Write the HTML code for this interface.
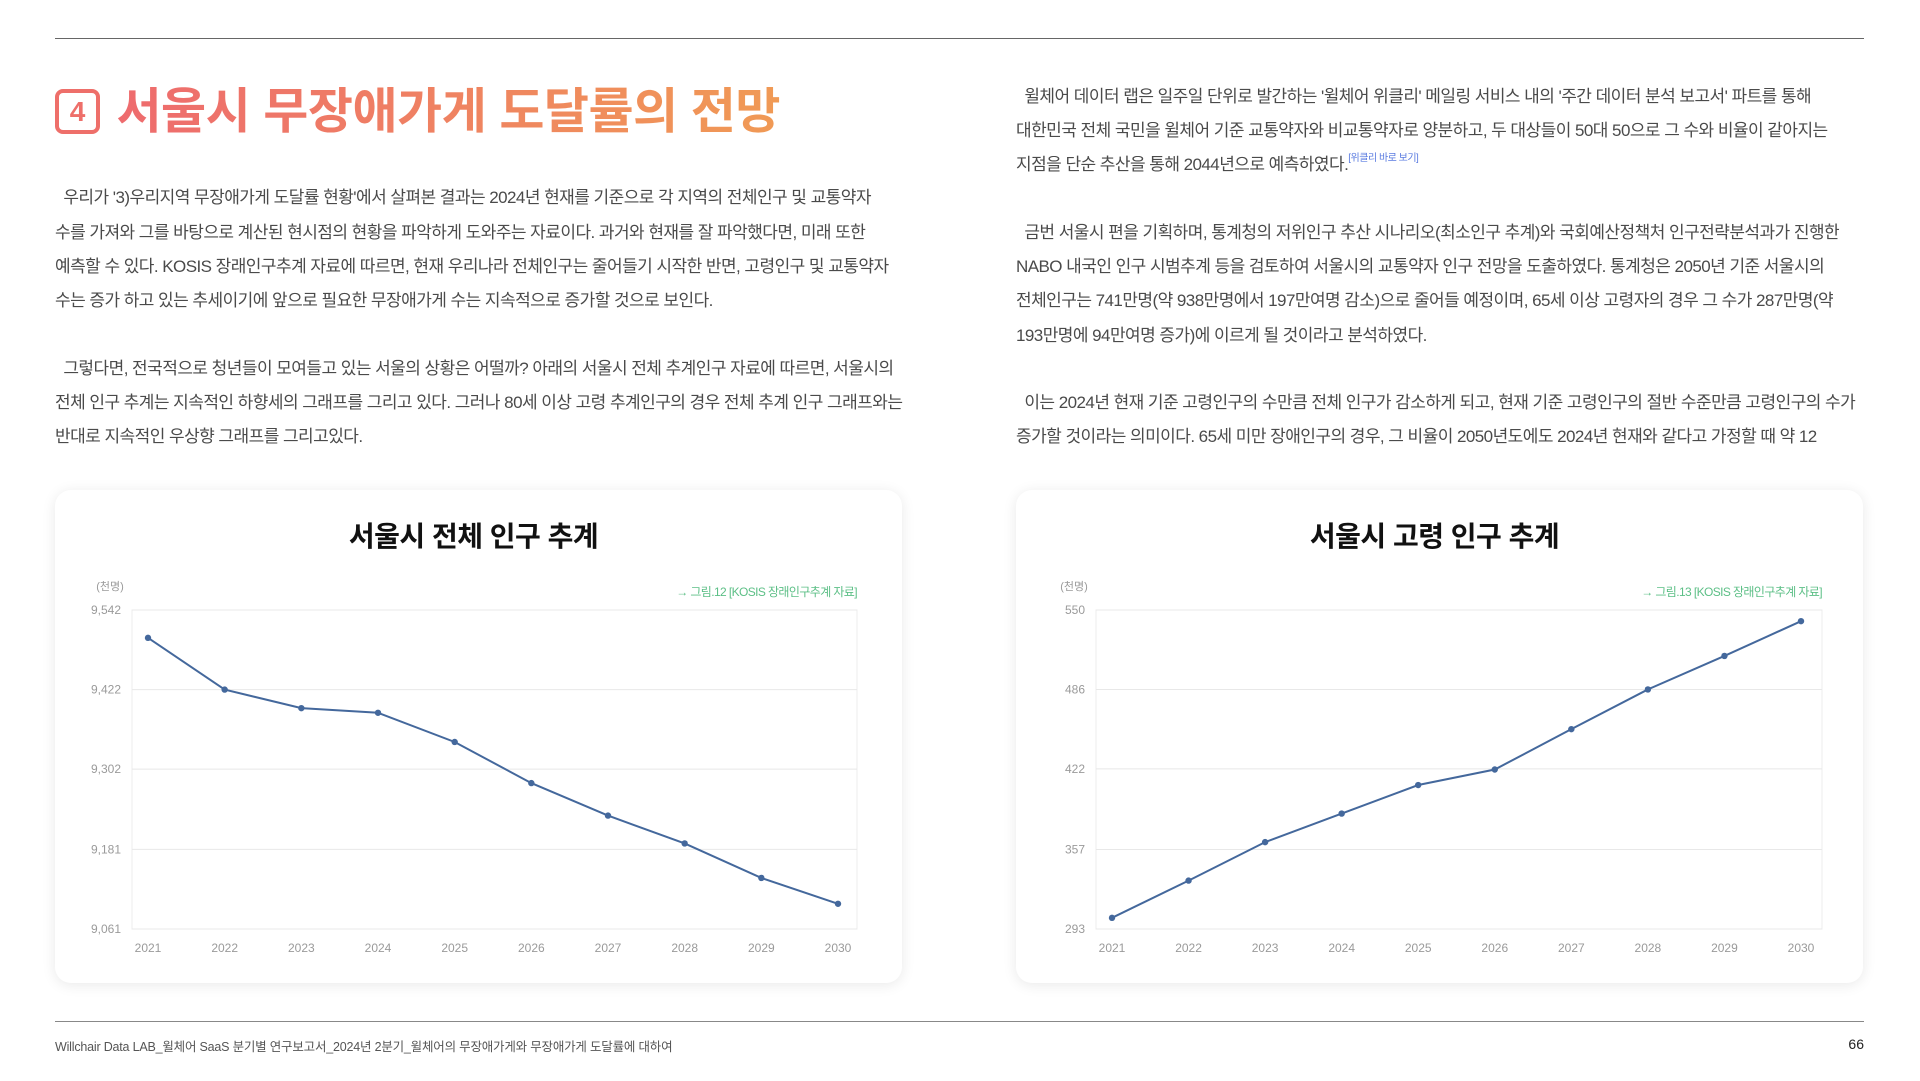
<!DOCTYPE html>
<html><head><meta charset="utf-8">
<style>
html,body{margin:0;padding:0;background:#fff;}
body{width:1920px;height:1081px;position:relative;overflow:hidden;font-family:"Liberation Sans","Noto Sans CJK KR",sans-serif;color:#444;}
.rule{position:absolute;left:55px;width:1809px;height:1px;background:#666;}
.ln{position:absolute;white-space:nowrap;font-size:17px;letter-spacing:-0.55px;line-height:20px;color:#4a4a4a;}
.card{position:absolute;top:490px;width:847px;height:493px;background:#fff;border-radius:16px;box-shadow:0 2px 14px rgba(0,0,0,0.09);}
.ctitle{position:absolute;top:515px;text-align:center;font-size:28px;font-weight:bold;color:#111;letter-spacing:-0.5px;}
</style></head><body>
<div class="rule" style="top:38px"></div>

<div style="position:absolute;left:55px;top:87px;height:52px;white-space:nowrap;">
  <span style="display:inline-block;width:37px;height:37px;border:4px solid #ee6f6a;border-radius:8px;color:#ee6f6a;font-size:28px;font-weight:bold;text-align:center;line-height:37px;vertical-align:top;margin-top:2px;">4</span>
  <span style="display:inline-block;margin-left:12px;font-size:49px;font-weight:bold;letter-spacing:-0.5px;line-height:50px;background:linear-gradient(90deg,#ee6b6e,#f09a55);-webkit-background-clip:text;background-clip:text;color:transparent;">서울시 무장애가게 도달률의 전망</span>
</div>

<div>
<div class="ln" style="left:55px;top:188px">&nbsp;&nbsp;우리가 '3)우리지역 무장애가게 도달률 현황'에서 살펴본 결과는 2024년 현재를 기준으로 각 지역의 전체인구 및 교통약자</div>
<div class="ln" style="left:55px;top:223px">수를 가져와 그를 바탕으로 계산된 현시점의 현황을 파악하게 도와주는 자료이다. 과거와 현재를 잘 파악했다면, 미래 또한</div>
<div class="ln" style="left:55px;top:257px">예측할 수 있다. KOSIS 장래인구추계 자료에 따르면, 현재 우리나라 전체인구는 줄어들기 시작한 반면, 고령인구 및 교통약자</div>
<div class="ln" style="left:55px;top:291px">수는 증가 하고 있는 추세이기에 앞으로 필요한 무장애가게 수는 지속적으로 증가할 것으로 보인다.</div>
</div>
<div>
<div class="ln" style="left:55px;top:359px">&nbsp;&nbsp;그렇다면, 전국적으로 청년들이 모여들고 있는 서울의 상황은 어떨까? 아래의 서울시 전체 추계인구 자료에 따르면, 서울시의</div>
<div class="ln" style="left:55px;top:393px">전체 인구 추계는 지속적인 하향세의 그래프를 그리고 있다. 그러나 80세 이상 고령 추계인구의 경우 전체 추계 인구 그래프와는</div>
<div class="ln" style="left:55px;top:427px">반대로 지속적인 우상향 그래프를 그리고있다.</div>
</div>

<div>
<div class="ln" style="left:1016px;top:87px">&nbsp;&nbsp;윌체어 데이터 랩은 일주일 단위로 발간하는 '윌체어 위클리' 메일링 서비스 내의 '주간 데이터 분석 보고서' 파트를 통해</div>
<div class="ln" style="left:1016px;top:121px">대한민국 전체 국민을 윌체어 기준 교통약자와 비교통약자로 양분하고, 두 대상들이 50대 50으로 그 수와 비율이 같아지는</div>
<div class="ln" style="left:1016px;top:155px">지점을 단순 추산을 통해 2044년으로 예측하였다.<span style="font-size:10px;color:#5a7be0;letter-spacing:-0.5px;position:relative;top:-9px;line-height:0;">[위클리 바로 보기]</span></div>
</div>
<div>
<div class="ln" style="left:1016px;top:223px">&nbsp;&nbsp;금번 서울시 편을 기획하며, 통계청의 저위인구 추산 시나리오(최소인구 추계)와 국회예산정책처 인구전략분석과가 진행한</div>
<div class="ln" style="left:1016px;top:257px">NABO 내국인 인구 시범추계 등을 검토하여 서울시의 교통약자 인구 전망을 도출하였다. 통계청은 2050년 기준 서울시의</div>
<div class="ln" style="left:1016px;top:291px">전체인구는 741만명(약 938만명에서 197만여명 감소)으로 줄어들 예정이며, 65세 이상 고령자의 경우 그 수가 287만명(약</div>
<div class="ln" style="left:1016px;top:326px">193만명에 94만여명 증가)에 이르게 될 것이라고 분석하였다.</div>
</div>
<div>
<div class="ln" style="left:1016px;top:393px">&nbsp;&nbsp;이는 2024년 현재 기준 고령인구의 수만큼 전체 인구가 감소하게 되고, 현재 기준 고령인구의 절반 수준만큼 고령인구의 수가</div>
<div class="ln" style="left:1016px;top:427px">증가할 것이라는 의미이다. 65세 미만 장애인구의 경우, 그 비율이 2050년도에도 2024년 현재와 같다고 가정할 때 약 12</div>
</div>

<div class="card" style="left:55px"></div>
<div class="card" style="left:1016px"></div>
<div class="ctitle" style="left:55px;width:837px">서울시 전체 인구 추계</div>
<div class="ctitle" style="left:1016px;width:837px">서울시 고령 인구 추계</div>

<svg id="charts" width="1920" height="1081" style="position:absolute;left:0;top:0"></svg>

<div class="rule" style="top:1021px;background:#888"></div>
<div style="position:absolute;left:55px;top:1036px;font-size:12.5px;color:#555;white-space:nowrap;letter-spacing:-0.2px;">Willchair Data LAB_윌체어 SaaS 분기별 연구보고서_2024년 2분기_윌체어의 무장애가게와 무장애가게 도달률에 대하여</div>
<div style="position:absolute;right:56px;top:1036px;font-size:14px;color:#222;">66</div>

<script>
const years = ["2021","2022","2023","2024","2025","2026","2027","2028","2029","2030"];
const totalValues = [9500,9422,9394,9387,9343,9281,9232,9190,9138,9099];
const totalTicks = [9061,9181,9302,9422,9542];
const totalTickLabels = ["9,061","9,181","9,302","9,422","9,542"];
const elderlyValues = [302,332,363,386,409,421.5,454,486,513,541];
const elderlyTicks = [293,357,422,486,550];
const elderlyTickLabels = ["293","357","422","486","550"];

const NS="http://www.w3.org/2000/svg";
const svg=document.getElementById('charts');
function mk(tag,attrs,parent){const e=document.createElementNS(NS,tag);for(const k in attrs)e.setAttribute(k,attrs[k]);(parent||svg).appendChild(e);return e;}

function drawChart(cfg){
  const g=mk('g',{});
  
  
  const x0=cfg.left,x1=cfg.right,yT=610,yB=929;
  const mn=cfg.ticks[0],mx=cfg.ticks[cfg.ticks.length-1];
  const y=v=>yB-(v-mn)/(mx-mn)*(yB-yT);
  const n=years.length;
  const x=i=>cfg.firstX+i*(cfg.lastX-cfg.firstX)/(n-1);
  mk('rect',{x:x0,y:yT,width:x1-x0,height:yB-yT,fill:'none',stroke:'#ececec','stroke-width':1},g);
  cfg.ticks.forEach((t,i)=>{
    const l=mk('line',{x1:x0,x2:x1,y1:y(t),y2:y(t),stroke:'#e8e8e8','stroke-width':1},g);
    
    
    const tx=mk('text',{x:x0-11,y:y(t)+4,'text-anchor':'end','font-size':12,fill:'#9a9a9a','font-family':'Liberation Sans, sans-serif'},g);
    tx.textContent=cfg.tickLabels[i];
    
    
  });
  years.forEach((yr,i)=>{
    const tx=mk('text',{x:x(i),y:952,'text-anchor':'middle','font-size':12,fill:'#9a9a9a','font-family':'Liberation Sans, sans-serif'},g);
    tx.textContent=yr;
    
    
  });
  const u=mk('text',{x:x0-22,y:590,'text-anchor':'middle','font-size':11,fill:'#9a9a9a','font-family':'Liberation Sans, Noto Sans CJK KR, sans-serif'},g);
  u.textContent='(천명)';
  
  
  const s=mk('text',{x:x1,y:596,'text-anchor':'end','font-size':12,fill:'#5cbf86','letter-spacing':'-0.6','font-family':'Liberation Sans, Noto Sans CJK KR, sans-serif'},g);
  s.textContent='→ '+cfg.source;
  
  
  const pts=cfg.values.map((v,i)=>x(i)+','+y(v)).join(' ');
  const pl=mk('polyline',{points:pts,fill:'none',stroke:'#44689c','stroke-width':2},g);
  
  
  cfg.values.forEach((v,i)=>{
    const c=mk('circle',{cx:x(i),cy:y(v),r:3.2,fill:'#44689c'},g);
    
    
  });
}
drawChart({name:'total-population-chart',left:132,right:857,firstX:148,lastX:838,ticks:totalTicks,tickLabels:totalTickLabels,values:totalValues,source:'그림.12 [KOSIS 장래인구추계 자료]'});
drawChart({name:'elderly-population-chart',left:1096,right:1822,firstX:1112,lastX:1801,ticks:elderlyTicks,tickLabels:elderlyTickLabels,values:elderlyValues,source:'그림.13 [KOSIS 장래인구추계 자료]'});
</script>
</body></html>
